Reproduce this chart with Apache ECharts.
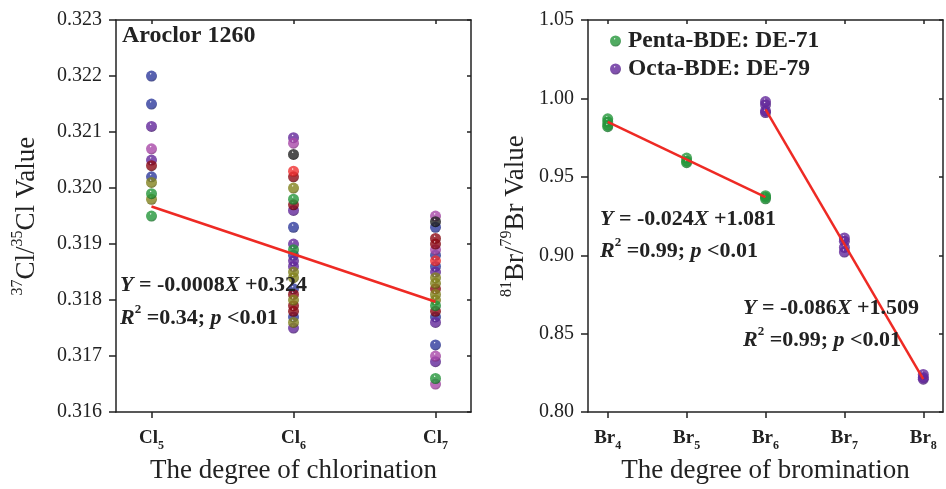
<!DOCTYPE html>
<html lang="en">
<head>
<meta charset="UTF-8">
<title>Cl and Br isotope ratios</title>
<script type="text/javascript" src="https://cdn.jsdelivr.net/npm/echarts@6/dist/echarts.min.js"></script>
<style type="text/css">
	html,body{margin:0;padding:0;background:#fff;}
	#chart{width:946px;height:489px;}
</style>
</head>
<body>
<div id="chart"></div>
<script type="text/javascript">
	// ---- data ----
	// Aroclor 1260, points grouped by marker colour: [degree of chlorination, 37Cl/35Cl]
	var clBlue    = [[5,0.3220],[5,0.3215],[5,0.3202],[6,0.3193],[6,0.3188],[6,0.3182],[6,0.3177],[7,0.3193],[7,0.3188],[7,0.3186],[7,0.3177],[7,0.3172]];
	var clPurple  = [[5,0.3211],[5,0.3205],[6,0.3209],[6,0.3196],[6,0.3190],[6,0.3187],[6,0.3186],[6,0.3175],[7,0.3185],[7,0.3176],[7,0.3169]];
	var clMagenta = [[5,0.3207],[6,0.3208],[7,0.3195],[7,0.3189],[7,0.3170],[7,0.3165]];
	var clDarkRed = [[5,0.3204],[6,0.3202],[6,0.3197],[6,0.3181],[6,0.3179],[6,0.3178],[7,0.3191],[7,0.3190],[7,0.3182],[7,0.3178]];
	var clRed     = [[6,0.3203],[7,0.3187]];
	var clOlive   = [[5,0.3201],[5,0.3198],[6,0.3200],[6,0.3185],[6,0.3184],[6,0.3180],[6,0.3176],[7,0.3184],[7,0.3183],[7,0.3181],[7,0.3180]];
	var clGreen   = [[5,0.3199],[5,0.3195],[6,0.3198],[6,0.3189],[7,0.3179],[7,0.3166]];
	var clBlack   = [[6,0.3206],[7,0.3194]];
	var clFit     = [[5,0.31967],[7,0.31797]];

	// PBDE mixtures: [degree of bromination, 81Br/79Br]
	var pentaPoints = [[4,0.987],[4,0.985],[4,0.983],[4,0.982],[5,0.962],[5,0.960],[5,0.959],[6,0.938],[6,0.937],[6,0.936]];
	var octaPoints  = [[6,0.998],[6,0.996],[6,0.992],[6,0.991],[7,0.911],[7,0.909],[7,0.905],[7,0.902],[8,0.824],[8,0.822],[8,0.821]];
	var pentaFit    = [[4,0.985],[6,0.937]];
	var octaFit     = [[6,0.993],[8,0.821]];

	var clTicks = [5,6,7];
	var brTicks = [4,5,6,7,8];
	var clLabelTicks = [0.316,0.317,0.318,0.319,0.320,0.321,0.322,0.323];
	var brLabelTicks = [0.80,0.85,0.90,0.95,1.00,1.05];
	var seriesNames = ['Penta-BDE: DE-71','Octa-BDE: DE-79'];

	var FONT = '"Liberation Serif", "Times New Roman", serif';

	//球形渐变
	function ball(c, dark){
		return {
			type:'radial', x:0.42, y:0.3, r:0.75,
			colorStops:[
				{offset:0, color:'#ffffff'},
				{offset:0.14, color:c},
				{offset:0.7, color:c},
				{offset:1, color:dark}
			]
		};
	}

	function dots(name, data, c, dark, xi){
		return {
			name:name, type:'scatter', xAxisIndex:xi, yAxisIndex:xi,
			data:data, symbolSize:11, z:2,
			itemStyle:{color:ball(c, dark)}
		};
	}
	function fit(data, xi){
		return {
			type:'line', xAxisIndex:xi, yAxisIndex:xi, data:data,
			symbol:'none', z:5, silent:true,
			lineStyle:{color:'#ee2a24', width:2.5}
		};
	}

	var lineStyle = {color:'#222', width:1.5};
	function xAx(grid, pos, min, max, ticks, label, name){
		var ax = {
			type:'value', gridIndex:grid, position:pos, min:min, max:max,
			axisLine:{show:true, onZero:false, lineStyle:lineStyle},
			axisTick:{show:true, inside:!label, length:label?6:4, customValues:ticks, lineStyle:lineStyle},
			splitLine:{show:false},
			axisLabel:{show:false}
		};
		if(label){
			ax.axisLabel = {
				show:true, customValues:ticks, margin:13,
				formatter:function(v){ return '{b|' + label + '}{s|' + v + '}'; },
				rich:{
					b:{fontFamily:FONT, fontWeight:'bold', fontSize:19, color:'#222', lineHeight:22, verticalAlign:'bottom'},
					s:{fontFamily:FONT, fontWeight:'bold', fontSize:12, color:'#222', lineHeight:22, verticalAlign:'bottom', padding:[0,0,-5,0]}
				}
			};
			ax.name = name;
			ax.nameLocation = 'middle';
			ax.nameGap = 28;
			ax.nameTextStyle = {fontFamily:FONT, fontSize:27, color:'#222'};
		}
		return ax;
	}
	function yAx(grid, pos, min, max, interval, digits, name, gap){
		var ax = {
			type:'value', gridIndex:grid, position:pos, min:min, max:max, interval:interval,
			axisLine:{show:true, onZero:false, lineStyle:lineStyle},
			axisTick:{show:true, inside:!name, length:name?7:4, lineStyle:lineStyle},
			splitLine:{show:false},
			axisLabel:{show:false}
		};
		if(name){
			ax.axisLabel = {
				show:true, margin:14, fontFamily:FONT, fontSize:20, color:'#222',
				formatter:function(v){ return v.toFixed(digits); }
			};
			ax.name = name;
			ax.nameLocation = 'middle';
			ax.nameGap = gap;
			ax.nameTextStyle = {
				fontFamily:FONT, fontSize:27, color:'#222',
				rich:{
					t:{fontFamily:FONT, fontSize:27, color:'#222', lineHeight:30, verticalAlign:'bottom'},
					u:{fontFamily:FONT, fontSize:16, color:'#222', lineHeight:30, verticalAlign:'top', padding:[0,0,11,0]}
				}
			};
		}
		return ax;
	}

	var chart = echarts.init(document.getElementById('chart'));
	var rich = {
		i:{fontFamily:FONT, fontStyle:'italic', fontWeight:'bold', fontSize:22, color:'#222', lineHeight:26, verticalAlign:'bottom'},
		b:{fontFamily:FONT, fontWeight:'bold', fontSize:22, color:'#222', lineHeight:26, verticalAlign:'bottom'},
		p:{fontFamily:FONT, fontWeight:'bold', fontSize:13, color:'#222', lineHeight:26, verticalAlign:'top', padding:[0,0,9,0]}
	};
	function txt(x, y, s){
		return {type:'text', left:x, top:y, z:20, style:{text:s, rich:rich, fill:'#222'}};
	}

	var option = {
		animation:false,
		backgroundColor:'#fff',
		grid:[
			{left:116, top:20, width:355, height:396},
			{left:588, top:20, width:355, height:396}
		],
		xAxis:[
			xAx(0, 'bottom', 4.75, 7.25, clTicks, 'Cl', 'The degree of chlorination'),
			xAx(0, 'top', 4.75, 7.25, clTicks, null),
			xAx(1, 'bottom', 3.75, 8.25, brTicks, 'Br', 'The degree of bromination'),
			xAx(1, 'top', 3.75, 8.25, brTicks, null)
		],
		yAxis:[
			yAx(0, 'left', clLabelTicks[0], clLabelTicks[clLabelTicks.length-1], 0.001, 3, '{u|37}{t|Cl/}{u|35}{t|Cl Value}', 76),
			yAx(0, 'right', clLabelTicks[0], clLabelTicks[clLabelTicks.length-1], 0.001, 3, null),
			yAx(1, 'left', brLabelTicks[0], brLabelTicks[brLabelTicks.length-1], 0.05, 2, '{u|81}{t|Br/}{u|79}{t|Br Value}', 59),
			yAx(1, 'right', brLabelTicks[0], brLabelTicks[brLabelTicks.length-1], 0.05, 2, null)
		],
		legend:{
			data:seriesNames, orient:'vertical', left:605, top:24,
			itemWidth:11, itemHeight:11, itemGap:4, icon:'circle',
			textStyle:{fontFamily:FONT, fontWeight:'bold', fontSize:23.5, color:'#222', padding:[0,0,0,2]}
		},
		series:[
			dots('blue', clBlue, '#2e3a9c', '#141a5a', 0),
			dots('purple', clPurple, '#62279a', '#341056', 0),
			dots('magenta', clMagenta, '#a848a8', '#6a2068', 0),
			dots('darkred', clDarkRed, '#8c0a14', '#4a0006', 0),
			dots('red', clRed, '#f03030', '#a01010', 0),
			dots('olive', clOlive, '#82821e', '#4a4a08', 0),
			dots('green', clGreen, '#24963a', '#0f5a1e', 0),
			dots('black', clBlack, '#222222', '#000000', 0),
			fit(clFit, 0),
			dots(seriesNames[0], pentaPoints, '#24963a', '#0f5a1e', 2),
			dots(seriesNames[1], octaPoints, '#62279a', '#341056', 2),
			fit(pentaFit, 2),
			fit(octaFit, 2)
		],
		graphic:[
			{type:'text', left:122, top:24, z:20, style:{text:'Aroclor 1260', fill:'#222', font:'bold 24px ' + FONT}},
			txt(120, 274, '{i|Y}{b| = -0.0008}{i|X}{b| +0.324}'),
			txt(120, 303, '{i|R}{p|2}{b| =0.34; }{i|p}{b| <0.01}'),
			txt(600, 208, '{i|Y}{b| = -0.024}{i|X}{b| +1.081}'),
			txt(600, 236, '{i|R}{p|2}{b| =0.99; }{i|p}{b| <0.01}'),
			txt(743, 297, '{i|Y}{b| = -0.086}{i|X}{b| +1.509}'),
			txt(743, 325, '{i|R}{p|2}{b| =0.99; }{i|p}{b| <0.01}')
		]
	};
	chart.setOption(option, true);
</script>
</body>
</html>
